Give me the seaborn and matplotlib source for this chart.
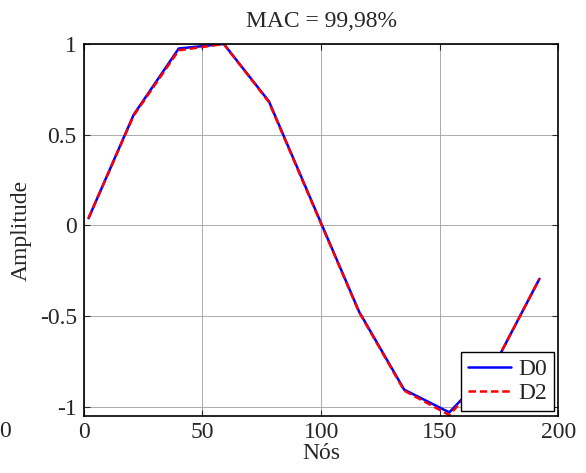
import numpy as np
import pandas as pd
import matplotlib
matplotlib.use("Agg")
import matplotlib.pyplot as plt
import seaborn as sns

# -- Data
nos = [2, 21, 40, 59, 78, 97, 116, 135, 154, 173, 192]
d0 = [0.04, 0.61, 0.975, 1.0, 0.684, 0.104, -0.475, -0.905, -1.03, -0.77, -0.294]
d2 = [0.04, 0.605, 0.965, 1.0, 0.68, 0.10, -0.478, -0.91, -1.045, -0.77, -0.294]
series = ["D0", "D2"]
x_ticks = [0, 50, 100, 150, 200]
y_ticks = [-1, -0.5, 0, 0.5, 1]
y_tick_labels = ["-1", "-0.5", "0", "0.5", "1"]

df = pd.DataFrame({
	"Nós": nos * 2,
	"Amplitude": d0 + d2,
	"serie": [series[0]] * len(nos) + [series[1]] * len(nos),
})

sns.set_style("ticks")
plt.rcParams["font.family"] = ["Liberation Serif", "DejaVu Serif"]
plt.rcParams["xtick.direction"] = "in"
plt.rcParams["ytick.direction"] = "in"

fs = 17
fig = plt.figure(figsize=(5.86, 4.73), dpi=100)
ax = fig.add_axes([0.143, 0.1205, 0.81, 0.7865])

sns.lineplot(data=df, x="Nós", y="Amplitude", hue="serie", style="serie",
	palette={"D0": "#0000ff", "D2": "#ff0000"},
	dashes={"D0": "", "D2": (3, 1.5)}, linewidth=1.8, ax=ax)

ax.set_xlim(0, 200)
ax.set_ylim(-1.05, 1)
ax.set_xticks(x_ticks)
ax.set_yticks(y_ticks)
ax.set_yticklabels(y_tick_labels)
ax.tick_params(labelsize=fs, top=True, right=True, length=4, width=0.8)
ax.tick_params(axis="y", pad=5)
ax.tick_params(axis="x", pad=4)
ax.grid(True, color="0.62", lw=0.6)
ax.set_axisbelow(True)
for s in ax.spines.values():
	s.set_linewidth(1.2)
	s.set_color("black")

ax.set_title("MAC = 99,98%", fontsize=fs, pad=12)
ax.set_xlabel("Nós", fontsize=fs, labelpad=0)
ax.set_ylabel("Amplitude", fontsize=fs, labelpad=6)

leg = ax.legend(loc="lower right", fontsize=fs, frameon=True, fancybox=False,
	framealpha=1, edgecolor="black", borderaxespad=0.2, handlelength=1.8,
	borderpad=0.3, labelspacing=0.1, handletextpad=0.3)
leg.get_frame().set_linewidth(1.0)

# -- stray tick label at the far left of the reference
fig.text(5 / 586, 1 - 431 / 473, "0", fontsize=fs, ha="center", va="center")

fig.savefig("out.png", dpi=100)
